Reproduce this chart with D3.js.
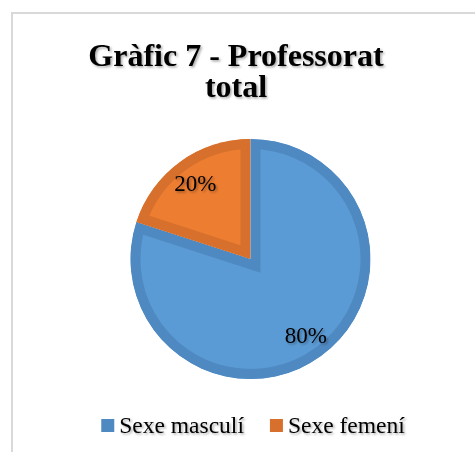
<!DOCTYPE html>
<html>
<head>
<meta charset="utf-8">
<script src="https://cdn.jsdelivr.net/npm/d3@7"></script>
<style>
  html, body { margin: 0; padding: 0; background: #fff; }
  svg { display: block; }
</style>
</head>
<body>
<div id="chart"></div>
<script>
// data
const categories = ["Sexe masculí", "Sexe femení"];
const values = [80, 20];
const titleLines = ["Gràfic 7 - Professorat", "total"];

const width = 475, height = 452;
const fills = ["#5b9bd5", "#ed7d31"];
const borders = ["#4f89c1", "#d6702c"];
const serif = "'Liberation Serif', 'Times New Roman', serif";

const svg = d3.select("#chart").append("svg")
  .attr("width", width)
  .attr("height", height);

const defs = svg.append("defs");
const shadow = defs.append("filter").attr("id", "shadow")
  .attr("x", "-10%").attr("y", "-10%").attr("width", "130%").attr("height", "140%");
shadow.append("feDropShadow")
  .attr("dx", 1.5).attr("dy", 1.5).attr("stdDeviation", 1)
  .attr("flood-color", "#000").attr("flood-opacity", 0.35);

// chart area frame (runs off the right and bottom)
svg.append("rect")
  .attr("x", 12).attr("y", 13)
  .attr("width", width).attr("height", height)
  .attr("fill", "#fff")
  .attr("stroke", "#d9d9d9")
  .attr("stroke-width", 2);

// title
svg.append("text")
  .attr("x", 236)
  .attr("y", 66)
  .attr("text-anchor", "middle")
  .style("font-family", serif)
  .style("font-weight", "bold")
  .style("font-size", "32px")
  .attr("fill", "#000")
  .attr("filter", "url(#shadow)")
  .selectAll("tspan")
  .data(titleLines)
  .enter().append("tspan")
  .attr("x", 236)
  .attr("dy", (d, i) => i === 0 ? 0 : 31)
  .text(d => d);

// pie
const cx = 250.5, cy = 259, radius = 120;
const data = categories.map((c, i) => ({ name: c, value: values[i], idx: i }));
const pie = d3.pie().sort(null).value(d => d.value);
const arcs = pie(data);
const arc = d3.arc().innerRadius(0).outerRadius(radius);
const labelArc = d3.arc().innerRadius(94).outerRadius(94);
const total = d3.sum(values);

const g = svg.append("g").attr("transform", `translate(${cx},${cy})`);

arcs.forEach((a, i) => {
  defs.append("clipPath").attr("id", "clip" + i)
    .append("path").attr("d", arc(a));
});

g.selectAll(".slice")
  .data(arcs)
  .enter().append("path")
  .attr("class", "slice")
  .attr("d", arc)
  .attr("fill", d => fills[d.data.idx])
  .attr("stroke", d => borders[d.data.idx])
  .attr("stroke-width", 20)
  .attr("clip-path", d => `url(#clip${d.data.idx})`);

g.selectAll(".label")
  .data(arcs)
  .enter().append("text")
  .attr("class", "label")
  .attr("transform", d => `translate(${labelArc.centroid(d)})`)
  .attr("text-anchor", "middle")
  .attr("dy", "0.35em")
  .style("font-family", serif)
  .style("font-size", "23px")
  .attr("fill", "#000")
  .attr("filter", "url(#shadow)")
  .text(d => Math.round(d.data.value / total * 100) + "%");

// legend
const legend = svg.append("g").attr("transform", "translate(0,433)");
const items = legend.selectAll(".item")
  .data(data)
  .enter().append("g")
  .attr("class", "item");
items.append("rect")
  .attr("y", -14)
  .attr("width", 13)
  .attr("height", 13)
  .attr("fill", d => borders[d.idx]);
items.append("text")
  .attr("x", 18)
  .style("font-family", serif)
  .style("font-size", "23.5px")
  .attr("fill", "#000")
  .attr("filter", "url(#shadow)")
  .text(d => d.name);

let widths = [];
items.each(function () {
  widths.push(18 + d3.select(this).select("text").node().getComputedTextLength());
});
const gap = 26;
const legendWidth = d3.sum(widths) + gap * (widths.length - 1);
let xPos = 253 - legendWidth / 2;
items.attr("transform", (d, i) => {
  const t = `translate(${xPos},0)`;
  xPos += widths[i] + gap;
  return t;
});
</script>
</body>
</html>
